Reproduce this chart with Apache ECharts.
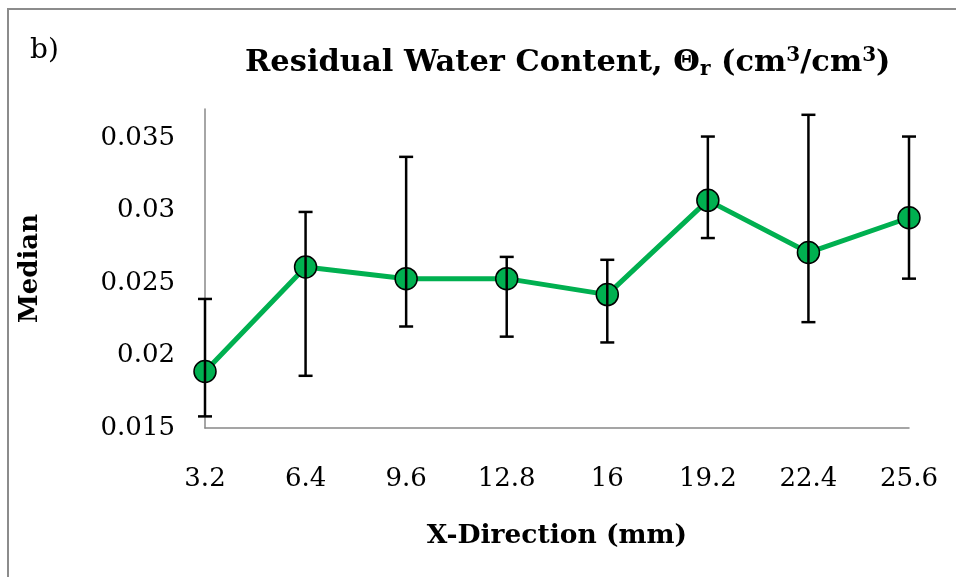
<!DOCTYPE html>
<html>
<head>
<meta charset="utf-8">
<script src="https://cdn.jsdelivr.net/npm/echarts@6/dist/echarts.min.js"></script>
<style>
  html, body { margin: 0; padding: 0; background: #fff; }
  #chart { width: 956px; height: 577px; }
</style>
</head>
<body>
<div id="chart"></div>
<script>
var xLabels = ['3.2', '6.4', '9.6', '12.8', '16', '19.2', '22.4', '25.6'];
var medianVals = [0.0189, 0.0261, 0.0253, 0.0253, 0.0242, 0.0307, 0.0271, 0.0295];
var lowVals = [0.0158, 0.0186, 0.0220, 0.0213, 0.0209, 0.0281, 0.0223, 0.0253];
var highVals = [0.0239, 0.0299, 0.0337, 0.0268, 0.0266, 0.0351, 0.0366, 0.0351];

var font = 'DejaVu Serif';
var chart = echarts.init(document.getElementById('chart'));

var errData = xLabels.map(function (x, i) { return [i, lowVals[i], highVals[i]]; });

var option = {
  animation: false,
  backgroundColor: '#fff',
  graphic: [
    {
      type: 'rect',
      shape: { x: 8, y: 9, width: 1000, height: 700 },
      style: { fill: 'none', stroke: '#8c8c8c', lineWidth: 2 }
    },
    {
      type: 'text',
      left: 30, top: 37,
      style: { text: 'b)', font: '28px "' + font + '"', fill: '#000' }
    }
  ],
  title: {
    text: '{t|Residual Water Content, Θ}{sub|r}{t| (cm}{sup|3}{t|/cm}{sup|3}{t|)}',
    left: 240,
    top: 41,
    textStyle: {
      rich: {
        t: { fontFamily: font, fontWeight: 'bold', fontSize: 30.5, color: '#000' },
        sub: { fontFamily: font, fontWeight: 'bold', fontSize: 20, color: '#000', verticalAlign: 'bottom', padding: [14, 0, 0, 0] },
        sup: { fontFamily: font, fontWeight: 'bold', fontSize: 20, color: '#000', verticalAlign: 'top', padding: [0, 0, 12, 0] }
      }
    }
  },
  grid: { left: 205, right: 47, top: 109, bottom: 149 },
  xAxis: {
    type: 'category',
    data: xLabels,
    boundaryGap: false,
    name: 'X-Direction (mm)',
    nameLocation: 'middle',
    nameGap: 95,
    nameTextStyle: { fontFamily: font, fontWeight: 'bold', fontSize: 26.5, color: '#000' },
    axisLine: { lineStyle: { color: '#888', width: 1.5 } },
    axisTick: { show: false },
    axisLabel: { fontFamily: font, fontSize: 26, color: '#000', margin: 38 },
    splitLine: { show: false }
  },
  yAxis: {
    type: 'value',
    min: 0.015,
    max: 0.037,
    interval: 0.005,
    name: 'Median',
    nameLocation: 'middle',
    nameGap: 162,
    nameTextStyle: { fontFamily: font, fontWeight: 'bold', fontSize: 26, color: '#000' },
    axisLine: { show: true, lineStyle: { color: '#888', width: 1.5 } },
    axisTick: { show: false },
    axisLabel: {
      fontFamily: font, fontSize: 26, color: '#000', margin: 30,
      showMaxLabel: false,
      formatter: function (v) { return String(Math.round(v * 1000) / 1000); }
    },
    splitLine: { show: false }
  },
  series: [
    {
      type: 'line',
      data: medianVals,
      z: 2,
      lineStyle: { color: '#00b050', width: 5 },
      symbol: 'circle',
      symbolSize: 22,
      itemStyle: { color: '#00b050', borderColor: '#000', borderWidth: 1.5 }
    },
    {
      type: 'custom',
      data: errData,
      z: 3,
      renderItem: function (params, api) {
        var lo = api.coord([api.value(0), api.value(1)]);
        var hi = api.coord([api.value(0), api.value(2)]);
        var w = 7;
        var st = { stroke: '#000', lineWidth: 2.5 };
        return {
          type: 'group',
          children: [
            { type: 'line', shape: { x1: hi[0], y1: hi[1], x2: lo[0], y2: lo[1] }, style: st },
            { type: 'line', shape: { x1: hi[0] - w, y1: hi[1], x2: hi[0] + w, y2: hi[1] }, style: st },
            { type: 'line', shape: { x1: lo[0] - w, y1: lo[1], x2: lo[0] + w, y2: lo[1] }, style: st }
          ]
        };
      }
    }
  ]
};

chart.setOption(option);
</script>
</body>
</html>
